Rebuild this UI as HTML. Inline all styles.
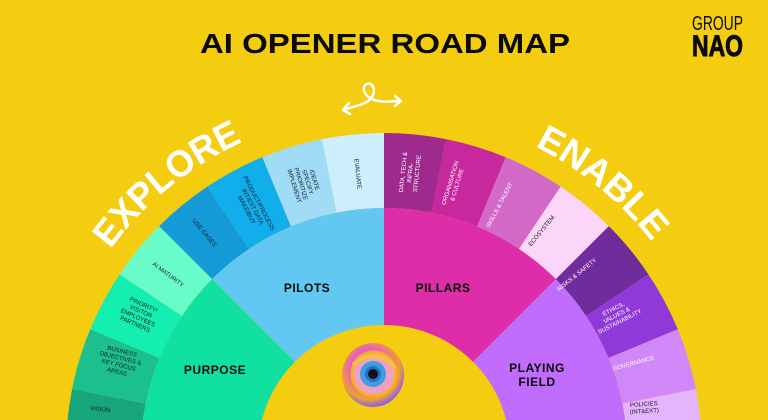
<!DOCTYPE html>
<html><head><meta charset="utf-8"><style>
html,body{margin:0;padding:0;background:#F4CC10;width:768px;height:420px;overflow:hidden;}
svg{display:block;}
.s{font-family:"Liberation Sans",sans-serif;font-size:6px;text-anchor:middle;}
.d{fill:#1a1a2a;}
.w{fill:#ffffff;}
.big{font-family:"Liberation Sans",sans-serif;font-weight:bold;font-size:12px;text-anchor:middle;fill:#0a0a0a;letter-spacing:0.5px;}
</style></head><body>
<svg width="768" height="420" viewBox="0 0 768 420" xmlns="http://www.w3.org/2000/svg">
<defs>
<path id="arc" d="M44,451 A340,340 0 0 1 724,451"/>
<radialGradient id="eg" cx="45%" cy="40%" r="60%">
<stop offset="0" stop-color="#ffd0f0"/><stop offset="0.5" stop-color="#e85ac8"/><stop offset="0.8" stop-color="#f0a030"/><stop offset="1" stop-color="#8a5cf0"/>
</radialGradient>
</defs>
<rect width="768" height="420" fill="#F4CC10"/>

<text x="385" y="53" font-family="Liberation Sans, sans-serif" font-weight="bold" font-size="28" text-anchor="middle" textLength="370" lengthAdjust="spacingAndGlyphs" fill="#0a0a0a">AI OPENER ROAD MAP</text>

<text x="692" y="30" font-family="Liberation Sans Narrow, Liberation Sans, sans-serif" font-size="20" textLength="51" lengthAdjust="spacingAndGlyphs" fill="#0a0a0a">GROUP</text>
<text x="692" y="56" font-family="Liberation Sans Narrow, Liberation Sans, sans-serif" font-weight="bold" font-size="30" textLength="51" lengthAdjust="spacingAndGlyphs" fill="#0a0a0a" stroke="#0a0a0a" stroke-width="1">NAO</text>

<g fill="none" stroke="#fff" stroke-width="2.5" stroke-linecap="round" stroke-linejoin="round">
<path d="M343,110 C355,106 368,104 372,97 C376,90 373,82 367,84 C361,86 363,96 374,100 C385,103 393,101 400,101"/>
<path d="M349,103 L343,110 L350,114"/>
<path d="M395,96 L401,101 L395,106"/>
</g>

<path d="M141,451 L66,451 A318,318 0 0 1 72.11,388.96 L145.67,403.59 A243,243 0 0 0 141,451Z" fill="#17A57A"/>
<path d="M145.67,403.59 L72.11,388.96 A318,318 0 0 1 90.21,329.31 L159.5,358.01 A243,243 0 0 0 145.67,403.59Z" fill="#1CC08C"/>
<path d="M159.5,358.01 L90.21,329.31 A318,318 0 0 1 119.59,274.33 L181.95,316 A243,243 0 0 0 159.5,358.01Z" fill="#14EEB0"/>
<path d="M181.95,316 L119.59,274.33 A318,318 0 0 1 159.14,226.14 L212.17,279.17 A243,243 0 0 0 181.95,316Z" fill="#6AFCC8"/>
<path d="M212.17,279.17 L159.14,226.14 A318,318 0 0 1 207.33,186.59 L249,248.95 A243,243 0 0 0 212.17,279.17Z" fill="#149AD6"/>
<path d="M249,248.95 L207.33,186.59 A318,318 0 0 1 262.31,157.21 L291.01,226.5 A243,243 0 0 0 249,248.95Z" fill="#10AEEA"/>
<path d="M291.01,226.5 L262.31,157.21 A318,318 0 0 1 321.96,139.11 L336.59,212.67 A243,243 0 0 0 291.01,226.5Z" fill="#A0DCF6"/>
<path d="M336.59,212.67 L321.96,139.11 A318,318 0 0 1 384,133 L384,208 A243,243 0 0 0 336.59,212.67Z" fill="#CDEEFC"/>
<path d="M384,208 L384,133 A318,318 0 0 1 446.04,139.11 L431.41,212.67 A243,243 0 0 0 384,208Z" fill="#9E2A8E"/>
<path d="M431.41,212.67 L446.04,139.11 A318,318 0 0 1 505.69,157.21 L476.99,226.5 A243,243 0 0 0 431.41,212.67Z" fill="#C8289E"/>
<path d="M476.99,226.5 L505.69,157.21 A318,318 0 0 1 560.67,186.59 L519,248.95 A243,243 0 0 0 476.99,226.5Z" fill="#D46AC8"/>
<path d="M519,248.95 L560.67,186.59 A318,318 0 0 1 608.86,226.14 L555.83,279.17 A243,243 0 0 0 519,248.95Z" fill="#FCD6F8"/>
<path d="M555.83,279.17 L608.86,226.14 A318,318 0 0 1 648.41,274.33 L586.05,316 A243,243 0 0 0 555.83,279.17Z" fill="#6E2C9C"/>
<path d="M586.05,316 L648.41,274.33 A318,318 0 0 1 677.79,329.31 L608.5,358.01 A243,243 0 0 0 586.05,316Z" fill="#9038D8"/>
<path d="M608.5,358.01 L677.79,329.31 A318,318 0 0 1 695.89,388.96 L622.33,403.59 A243,243 0 0 0 608.5,358.01Z" fill="#D088F8"/>
<path d="M622.33,403.59 L695.89,388.96 A318,318 0 0 1 702,451 L627,451 A243,243 0 0 0 622.33,403.59Z" fill="#E4B4FC"/>

<path d="M258,451 L141,451 A243,243 0 0 1 212.17,279.17 L294.9,361.9 A126,126 0 0 0 258,451Z" fill="#10E0A0"/>
<path d="M294.9,361.9 L212.17,279.17 A243,243 0 0 1 384,208 L384,325 A126,126 0 0 0 294.9,361.9Z" fill="#62C8F2"/>
<path d="M384,325 L384,208 A243,243 0 0 1 555.83,279.17 L473.1,361.9 A126,126 0 0 0 384,325Z" fill="#DE2DA8"/>
<path d="M473.1,361.9 L555.83,279.17 A243,243 0 0 1 627,451 L510,451 A126,126 0 0 0 473.1,361.9Z" fill="#C06CFC"/>

<text class="big" x="307" y="292">PILOTS</text>
<text class="big" x="215" y="374">PURPOSE</text>
<text class="big" x="443" y="292">PILLARS</text>
<text class="big" x="537" y="372">PLAYING</text>
<text class="big" x="537" y="386">FIELD</text>

<text class="s d" transform="translate(100,411) rotate(6)">VISION</text>
<text class="s d" transform="translate(120,360) rotate(14)"><tspan x="0" y="-7">BUSINESS</tspan><tspan x="0" y="0">OBJECTIVES &amp;</tspan><tspan x="0" y="7">KEY FOCUS</tspan><tspan x="0" y="14">AREAS</tspan></text>
<text class="s d" transform="translate(140,313) rotate(24)"><tspan x="0" y="-7">PRIORITY!</tspan><tspan x="0" y="0">VISITOR</tspan><tspan x="0" y="7">EMPLOYEES</tspan><tspan x="0" y="14">PARTNERS</tspan></text>
<text class="s d" transform="translate(167,276) rotate(37)">AI MATURITY</text>
<text class="s d" transform="translate(203,234) rotate(50)">USE CASES</text>
<text class="s d" transform="translate(252,207) rotate(62)"><tspan x="0" y="-6">PRODUCT/PROCESS</tspan><tspan x="0" y="1">INT/EXT DATA</tspan><tspan x="0" y="8">MAKE/BUY</tspan></text>
<text class="s d" transform="translate(304,183) rotate(73)"><tspan x="0" y="-9">IDEATE</tspan><tspan x="0" y="-2">SPECIFY</tspan><tspan x="0" y="5">PRIORITIZE</tspan><tspan x="0" y="12">IMPLEMENT</tspan></text>
<text class="s d" transform="translate(356,174) rotate(84)">EVALUATE</text>

<text class="s w" transform="translate(411,173) rotate(-84)"><tspan x="0" y="-6">DATA, TECH &amp;</tspan><tspan x="0" y="1">INFRA-</tspan><tspan x="0" y="8">STRUCTURE</tspan></text>
<text class="s w" transform="translate(454,184) rotate(-73)"><tspan x="0" y="-2">ORGANISATION</tspan><tspan x="0" y="5">&amp; CULTURE</tspan></text>
<text class="s w" transform="translate(501,206) rotate(-62)">SKILLS &amp; TALENT</text>
<text class="s d" transform="translate(543,232) rotate(-51)">ECOSYSTEM</text>
<text class="s w" transform="translate(578,276) rotate(-39)">RISKS &amp; SAFETY</text>
<text class="s w" transform="translate(617,316) rotate(-27)"><tspan x="0" y="-6">ETHICS,</tspan><tspan x="0" y="1">VALUES &amp;</tspan><tspan x="0" y="8">SUSTAINABILITY</tspan></text>
<text class="s w" transform="translate(634,365) rotate(-15)">GOVERNANCE</text>
<text class="s d" transform="translate(644,407) rotate(-4)"><tspan x="0" y="-1">POLICIES</tspan><tspan x="0" y="6">(INT&amp;EXT)</tspan></text>

<text font-family="Liberation Sans, sans-serif" font-weight="bold" font-size="37" fill="#fff" text-anchor="middle"><textPath href="#arc" startOffset="302" textLength="172" lengthAdjust="spacingAndGlyphs">EXPLORE</textPath></text>
<text font-family="Liberation Sans, sans-serif" font-weight="bold" font-size="37" fill="#fff" text-anchor="middle"><textPath href="#arc" startOffset="766" textLength="152" lengthAdjust="spacingAndGlyphs">ENABLE</textPath></text>

<g transform="translate(373,375)">
<ellipse cx="0" cy="0" rx="31" ry="32" fill="url(#eg)"/>
<ellipse cx="1" cy="-1" rx="22" ry="22" fill="#f0a0c0"/>
<ellipse cx="1" cy="-1" rx="22" ry="22" fill="none" stroke="#f6b020" stroke-width="3"/>
<circle cx="0" cy="-1" r="13" fill="#3a9ee0"/>
<circle cx="0" cy="-1" r="8" fill="#2a70c0"/>
<circle cx="0" cy="-1" r="5" fill="#101020"/>
<path d="M-20,-10 C-5,-24 15,-20 22,-6" fill="none" stroke="#f8c040" stroke-width="4"/>
</g>
</svg>
</body></html>
